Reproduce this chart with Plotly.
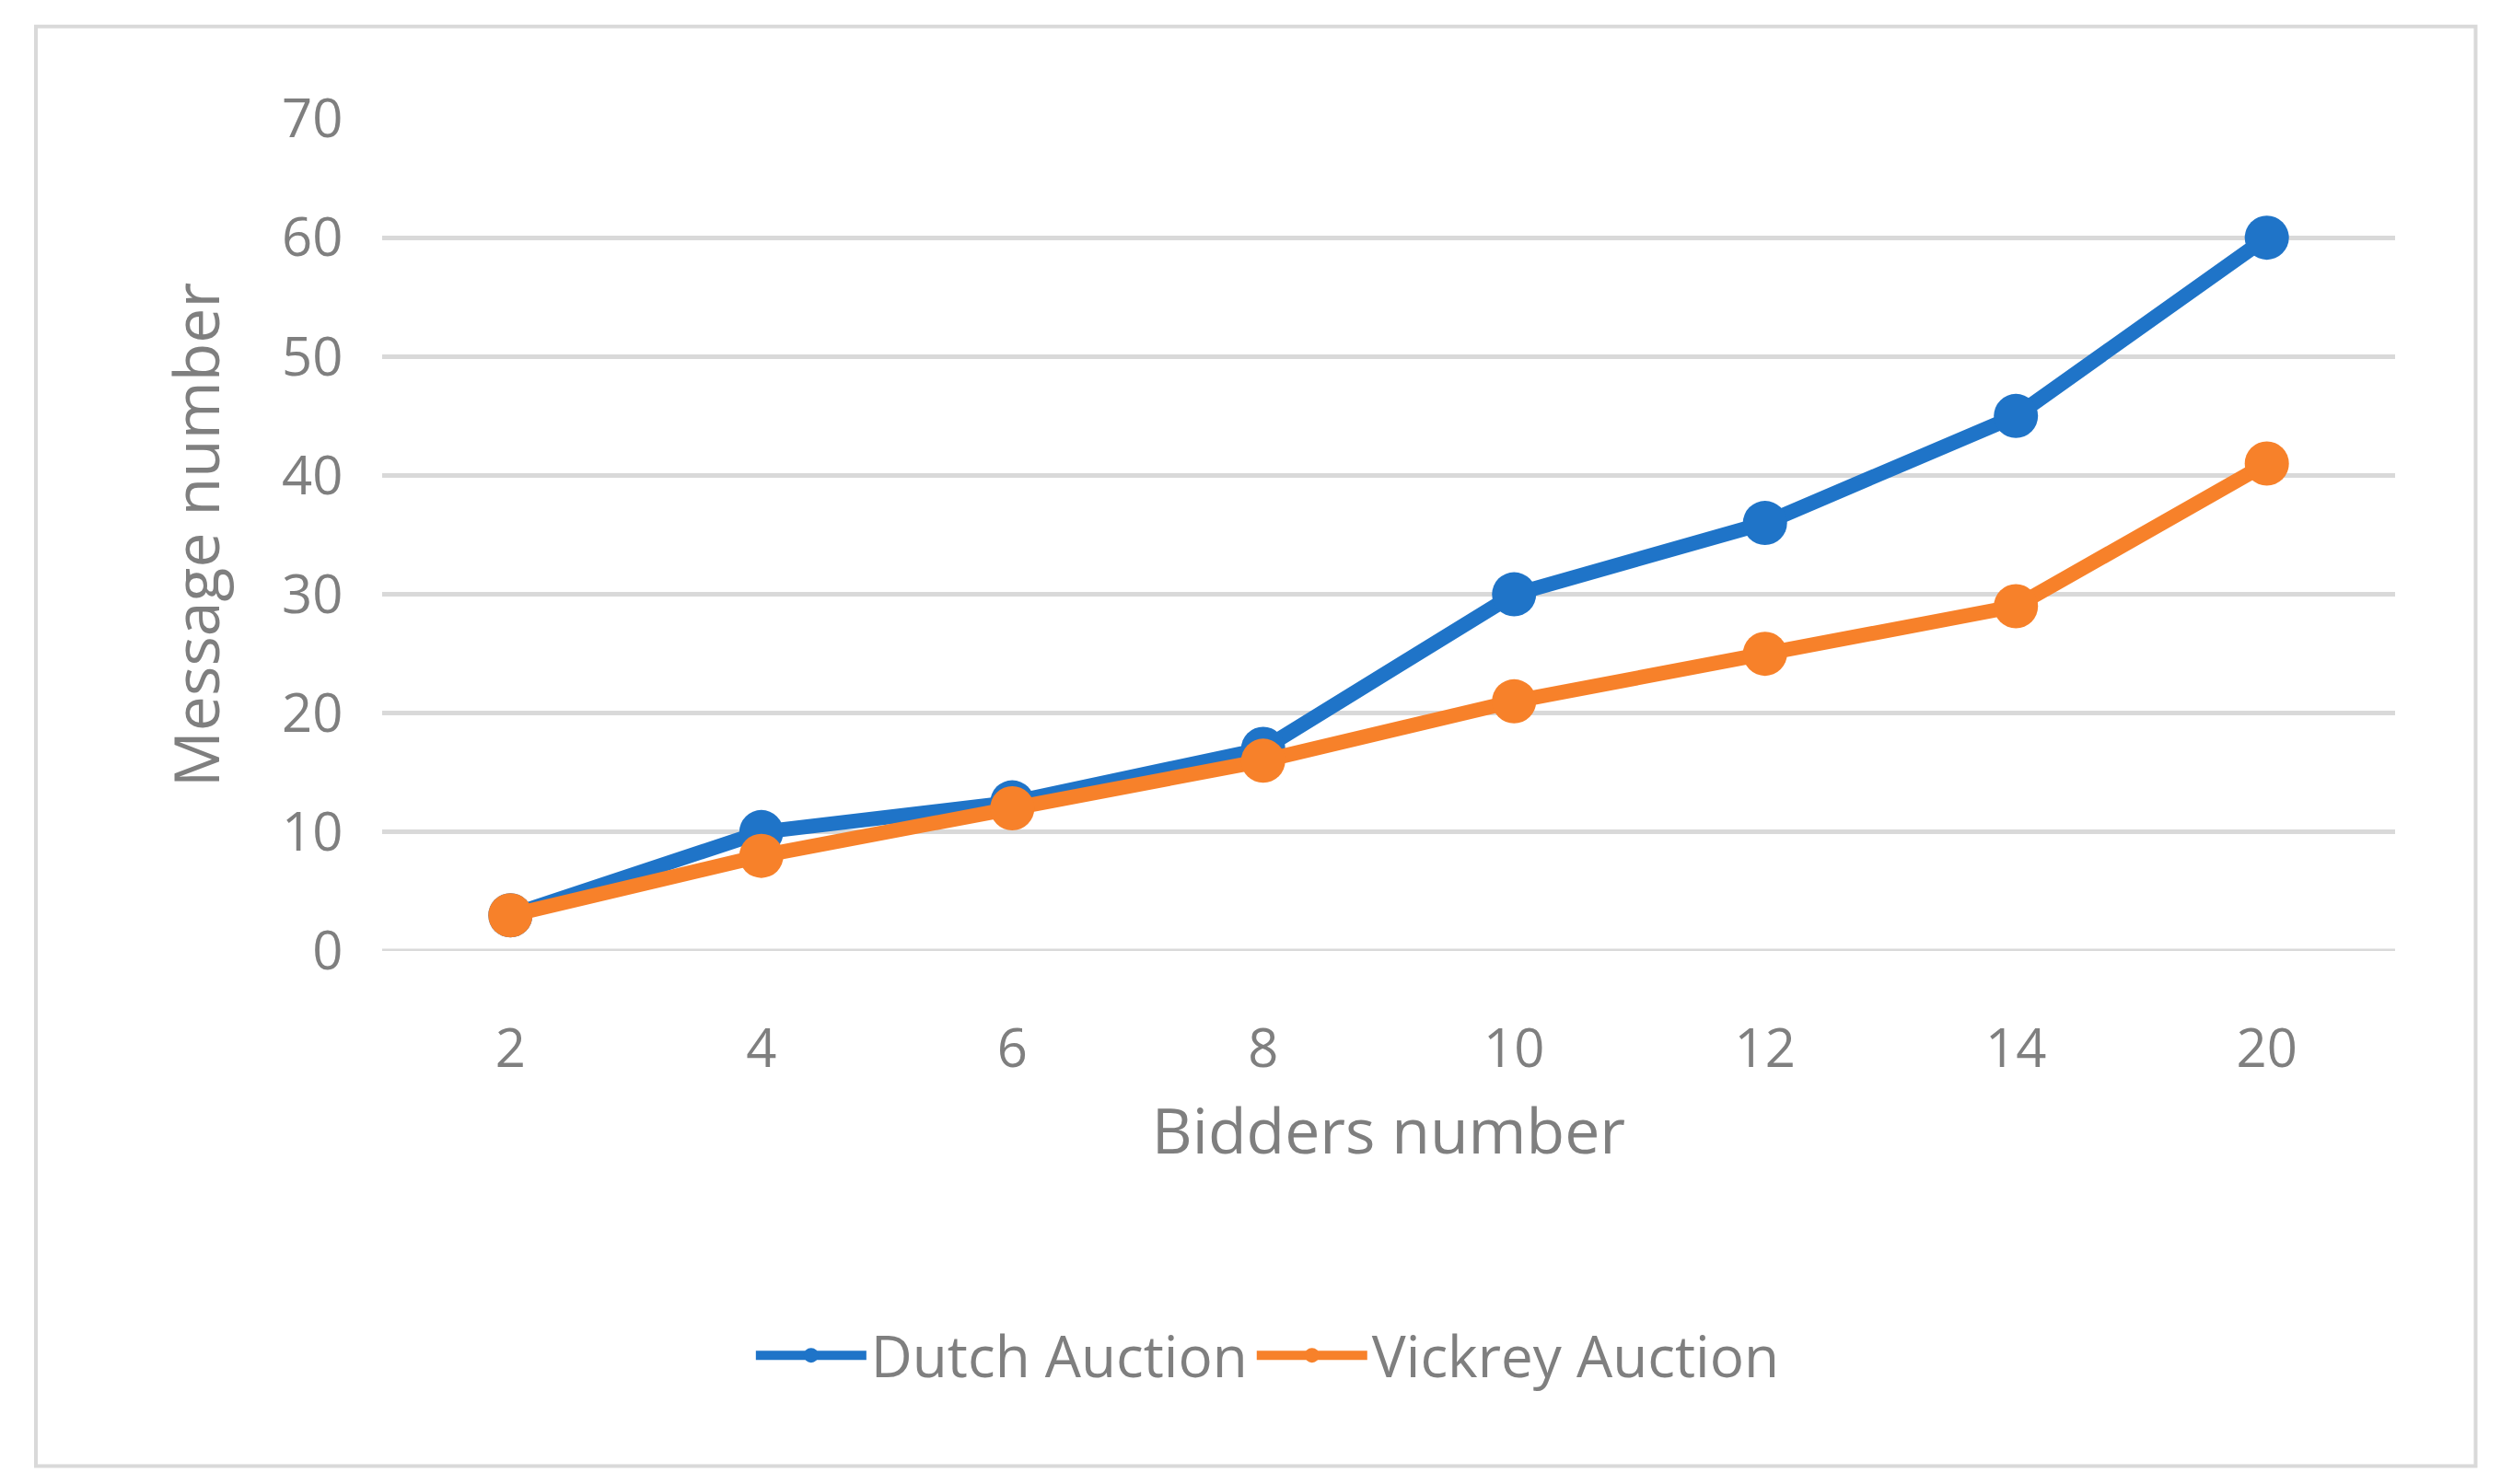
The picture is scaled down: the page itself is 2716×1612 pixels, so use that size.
import plotly.graph_objects as go

bidders = ["2", "4", "6", "8", "10", "12", "14", "20"]
dutch = [3, 10, 12.5, 17, 30, 36, 45, 60]
vickrey = [3, 8, 12, 16, 21, 25, 29, 41]

fig = go.Figure()
fig.add_trace(go.Scatter(x=bidders, y=dutch, name="Dutch Auction", mode="lines+markers",
                         line=dict(color="#1f74c8", width=16), marker=dict(size=48, color="#1f74c8")))
fig.add_trace(go.Scatter(x=bidders, y=vickrey, name="Vickrey Auction", mode="lines+markers",
                         line=dict(color="#f7812a", width=16), marker=dict(size=48, color="#f7812a")))

font = "Open Sans, Liberation Sans, sans-serif"
fig.update_layout(
    width=2716, height=1612, paper_bgcolor="white", plot_bgcolor="white",
    margin=dict(l=407, r=123, t=121, b=587),
    font=dict(family=font, color="#7f7f7f", size=58),
    xaxis=dict(type="category", showgrid=False, ticks="outside", ticklen=55, tickcolor="white",
               title=dict(text="Bidders number", font=dict(size=68), standoff=30),
               tickfont=dict(size=58)),
    yaxis=dict(range=[0, 70], dtick=10, gridcolor="#d9d9d9", gridwidth=5, zeroline=False, showline=False,
               ticks="outside", ticklen=30, tickcolor="white",
               title=dict(text="Message number", font=dict(size=68), standoff=45), tickfont=dict(size=58)),
    legend=dict(orientation="h", x=0.44, xanchor="center", y=-0.486, yanchor="middle",
                font=dict(size=62), itemwidth=120),
    shapes=[dict(type="rect", xref="paper", yref="paper", x0=-0.172, x1=1.040, y0=-0.619, y1=1.111,
                 line=dict(color="#d9d9d9", width=4)),
            dict(type="line", xref="paper", yref="y", x0=0, x1=1, y0=0, y1=0, line=dict(color="#d9d9d9", width=5), layer="below")],
)
fig.write_html("out.html")
